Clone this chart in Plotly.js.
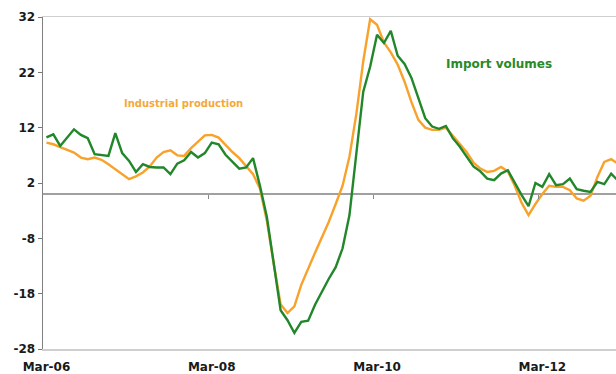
<!DOCTYPE html>
<html>
<head>
<meta charset="utf-8">
<script src="https://cdn.plot.ly/plotly-3.0.1.min.js"></script>
<style>
  html, body { margin: 0; padding: 0; background: #fff; }
  #chart { width: 616px; height: 374px; }
</style>
</head>
<body>
<div id="chart"></div>
<script>
// Monthly year-on-year growth (%), March 2006 onwards
const startYear = 2006;
const startMonth = 2; // March (0-based)

const industrialProduction = [
  9.3, 9.0, 8.5, 8.0, 7.5, 6.6, 6.3, 6.6, 6.2, 5.4, 4.5, 3.5,
  2.7, 3.2, 3.9, 5.0, 6.6, 7.6, 7.9, 7.0, 6.9, 8.3, 9.4, 10.6,
  10.7, 10.2, 8.9, 7.6, 6.5, 5.0, 3.6, 1.0, -4.8, -12.6, -19.9, -21.5,
  -20.3, -16.4, -13.4, -10.6, -7.8, -5.0, -1.8, 1.5, 6.8, 14.5, 24.0, 31.6,
  30.6, 27.4, 25.6, 23.4, 20.3, 16.6, 13.4, 12.0, 11.6, 11.6, 12.0, 10.6,
  9.1, 7.6, 5.7, 4.6, 4.0, 4.2, 4.9, 4.1, 1.5, -1.6, -3.8, -1.8,
  0.0, 1.5, 1.3, 1.3, 0.7, -0.8, -1.2, -0.3, 3.1, 5.8, 6.3, 5.5
];

const importVolumes = [
  10.25, 10.8, 8.7, 10.2, 11.7, 10.7, 10.1, 7.2, 7.0, 6.9, 11.0, 7.4,
  6.0, 4.0, 5.4, 4.9, 4.8, 4.8, 3.6, 5.5, 6.1, 7.6, 6.6, 7.4,
  9.3, 9.0, 7.1, 5.8, 4.6, 4.8, 6.5, 1.5, -4.1, -12.5, -21.0, -22.8,
  -25.1, -23.1, -22.9, -20.0, -17.5, -15.3, -13.2, -9.8, -3.8, 7.5, 18.5, 23.0,
  28.8, 27.3, 29.5, 25.0, 23.5, 21.0, 17.2, 13.7, 12.2, 11.8, 12.3, 10.1,
  8.6, 6.7, 5.0, 4.1, 2.8, 2.5, 3.7, 4.3, 2.0, -0.2, -2.2, 2.0,
  1.3, 3.6, 1.6, 1.8, 2.8, 0.9, 0.6, 0.4, 2.2, 1.8, 3.7, 2.4
];

const yTicks = [-28, -18, -8, 2, 12, 22, 32];
const xTickLabels = ['Mar-06', 'Mar-08', 'Mar-10', 'Mar-12'];

// Month labels ("Mar-06", "Apr-06", ...) used as category positions
const monthNames = ['Jan','Feb','Mar','Apr','May','Jun','Jul','Aug','Sep','Oct','Nov','Dec'];
const months = industrialProduction.map((_, i) => {
  const m = startMonth + i;
  const y = startYear + Math.floor(m / 12);
  return monthNames[m % 12] + '-' + String(y % 100).padStart(2, '0');
});
const idx = months.map((_, i) => i);
const tickIdx = xTickLabels.map(l => months.indexOf(l));

const ORANGE = '#f8a22c';
const GREEN = '#22862a';
const FONT = 'DejaVu Sans, Verdana, sans-serif';

const xRange = [-0.5, 82.7];

const traces = [
  {
    x: idx, y: industrialProduction, type: 'scatter', mode: 'lines',
    line: { color: ORANGE, width: 2.4 }, hoverinfo: 'skip'
  },
  {
    x: idx, y: importVolumes, type: 'scatter', mode: 'lines',
    line: { color: GREEN, width: 2.4 }, hoverinfo: 'skip'
  },
  // carrier for the category-boundary tick marks drawn on the zero line
  {
    x: [0], y: [0], xaxis: 'x2', type: 'scatter', mode: 'markers',
    marker: { opacity: 0 }, hoverinfo: 'skip'
  }
];

const layout = {
  width: 616, height: 374,
  margin: { l: 43, r: 0, t: 17, b: 25 },
  paper_bgcolor: '#fff', plot_bgcolor: '#fff',
  showlegend: false,
  font: { family: FONT, color: '#1a1a1a', size: 12, weight: 'bold' },
  xaxis: {
    range: xRange,
    tickvals: tickIdx, ticktext: xTickLabels,
    ticks: '', showgrid: false, zeroline: false,
    showline: true, linecolor: '#cfcfcf', linewidth: 1.5, mirror: true,
    tickfont: { family: FONT, size: 12, color: '#1a1a1a', weight: 'bold' },
    ticklabelstandoff: 6
  },
  xaxis2: {
    overlaying: 'x', anchor: 'free', position: 28 / 60,
    range: xRange,
    tickvals: tickIdx.slice(1).map(i => i - 0.5),
    ticks: 'outside', ticklen: 4, tickwidth: 1, tickcolor: '#888',
    showticklabels: false, showgrid: false, zeroline: false, showline: false
  },
  yaxis: {
    range: [-28, 32],
    tickvals: yTicks,
    ticktext: yTicks.map(v => String(v)),
    ticks: 'outside', ticklen: 4, tickwidth: 1, tickcolor: '#777',
    showline: true, linecolor: '#808080', linewidth: 1.5,
    showgrid: false,
    zeroline: true, zerolinecolor: '#a0a0a0', zerolinewidth: 2,
    tickfont: { family: FONT, size: 12, color: '#1a1a1a', weight: 'bold' }
  },
  annotations: [
    {
      x: 19.86, y: 16.3, xref: 'x', yref: 'y',
      text: 'Industrial production', showarrow: false,
      font: { family: FONT, size: 10, color: '#f3a93a', weight: 'bold' }
    },
    {
      x: 65.7, y: 23.5, xref: 'x', yref: 'y',
      text: 'Import volumes', showarrow: false,
      font: { family: FONT, size: 12, color: '#2a8a2a', weight: 'bold' }
    }
  ]
};

Plotly.newPlot('chart', traces, layout, { staticPlot: true, displayModeBar: false });
</script>
</body>
</html>
